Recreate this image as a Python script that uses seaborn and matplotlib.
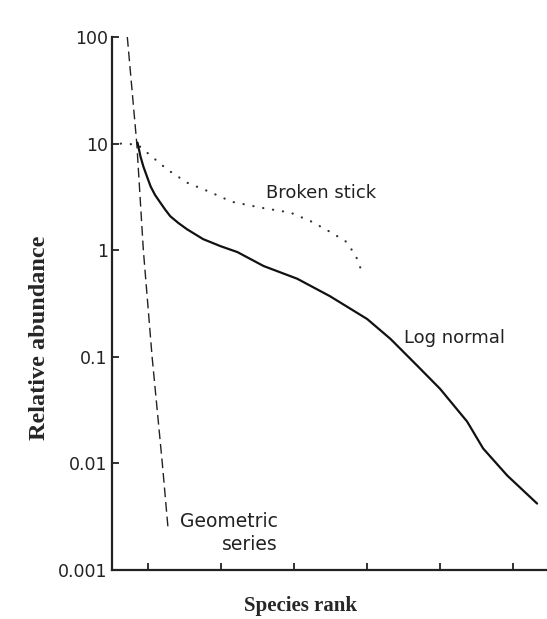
import numpy as np
import pandas as pd
import matplotlib
matplotlib.use("Agg")
import matplotlib.pyplot as plt
import seaborn as sns

# ---- data (species rank, relative abundance) ----
geo_rank = [2.1, 3.4, 4.3, 5.5, 6.9, 7.7]
geo_abund = [100, 10, 1.0, 0.1, 0.01, 0.0024]

stick_rank = [1.2, 3.5, 4.3, 7.6, 10.3, 13.5, 16.4, 20.5, 24.5, 27.4, 29.8, 32.0, 33.4, 34.3]
stick_abund = [10, 9.8, 8.8, 5.7, 4.3, 3.5, 2.85, 2.5, 2.25, 1.85, 1.5, 1.22, 0.9, 0.62]

lognorm_rank = [3.5, 3.9, 4.3, 4.8, 5.3, 5.9, 6.6, 7.3, 8.0, 9.1, 10.3, 12.5, 14.9, 17.2,
                20.8, 25.4, 29.9, 35.0, 38.2, 41.9, 45.0, 48.7, 50.9, 54.2, 58.3]
lognorm_abund = [10.2, 7.6, 6.1, 4.9, 3.96, 3.3, 2.81, 2.4, 2.08, 1.8, 1.57, 1.27, 1.09, 0.96,
                 0.71, 0.54, 0.37, 0.226, 0.147, 0.082, 0.050, 0.0247, 0.0138, 0.0077, 0.0042]

y_ticks = [100, 10, 1, 0.1, 0.01, 0.001]
y_tick_labels = ["100", "10", "1", "0.1", "0.01", "0.001"]
x_ticks = [5, 15, 25, 35, 45, 55]

sns.set_theme(style="white")
plt.rcParams['font.family'] = ['DejaVu Sans']

fig = plt.figure(figsize=(5.47, 6.19), dpi=100)
ax = fig.add_axes([112 / 547, 1 - 570 / 619, 1 - 112 / 547, (570 - 37) / 619])

df_geo = pd.DataFrame({"rank": geo_rank, "abund": geo_abund})
df_stick = pd.DataFrame({"rank": stick_rank, "abund": stick_abund})
df_ln = pd.DataFrame({"rank": lognorm_rank, "abund": lognorm_abund})

sns.lineplot(data=df_geo, x="rank", y="abund", ax=ax, color="#222222", lw=1.0,
             linestyle=(0, (7, 3.5)), estimator=None, sort=False, clip_on=False)
sns.lineplot(data=df_stick, x="rank", y="abund", ax=ax, color="#333333", lw=1.6,
             linestyle=(0, (0.1, 4.4)), dash_capstyle="round", estimator=None,
             sort=False, clip_on=False)
sns.lineplot(data=df_ln, x="rank", y="abund", ax=ax, color="#111111", lw=1.6,
             estimator=None, sort=False, clip_on=False)

ax.set_yscale("log")
ax.set_ylim(0.001, 100)
ax.set_xlim(0, (547 - 111.5) / 7.3)
ax.set_yticks(y_ticks)
ax.set_yticklabels(y_tick_labels, fontsize=12.5, color="#222222")
ax.yaxis.set_minor_locator(matplotlib.ticker.NullLocator())
ax.set_xticks(x_ticks)
ax.set_xticklabels([])
ax.tick_params(axis="both", direction="in", length=5, width=1.3, color="#222222",
               left=True, bottom=True)
ax.tick_params(axis="y", pad=3)

for s in ["top", "right"]:
    ax.spines[s].set_visible(False)
for s in ["left", "bottom"]:
    ax.spines[s].set_color("#222222")
    ax.spines[s].set_linewidth(1.6)

ax.set_xlabel("")
ax.set_ylabel("")
fig.text(300 / 547, 1 - 606 / 619, "Species rank", family="Liberation Serif",
         fontweight="bold", fontsize=15, ha="center", va="center")
fig.text(40 / 547, 1 - 338 / 619, "Relative abundance", family="Liberation Serif",
         fontweight="bold", fontsize=17.5, ha="center", va="center", rotation=90)

fig.text(321 / 547, 1 - 193 / 619, "Broken stick", fontsize=13, color="#222222",
         ha="center", va="center")
fig.text(455 / 547, 1 - 338 / 619, "Log normal", fontsize=13, color="#222222",
         ha="center", va="center")
fig.text(278 / 547, 1 - 533 / 619, "Geometric\nseries", fontsize=13.5, color="#222222",
         ha="right", va="center", multialignment="right", linespacing=1.25)

fig.savefig("out.png", dpi=100, facecolor="white")
